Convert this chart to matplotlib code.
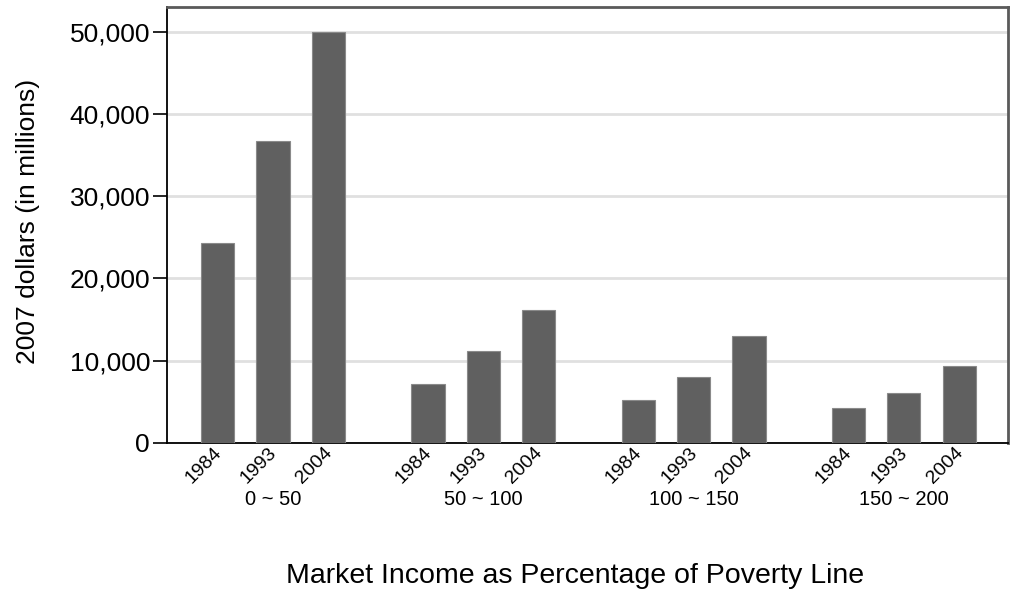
import numpy as np
import matplotlib
matplotlib.use("Agg")
import matplotlib.pyplot as plt
from matplotlib.transforms import ScaledTranslation

plt.rcParams['font.family'] = ['Liberation Sans', 'DejaVu Sans']

groups = ['0 ~ 50', '50 ~ 100', '100 ~ 150', '150 ~ 200']
years = ['1984', '1993', '2004']
# values in millions of 2007 dollars, one list per income group (1984, 1993, 2004)
g0_50 = [24350, 36700, 50000]
g50_100 = [7150, 11150, 16200]
g100_150 = [5250, 7980, 12980]
g150_200 = [4300, 6020, 9320]
values = [g0_50, g50_100, g100_150, g150_200]

group_step = 3.8
fig = plt.figure(figsize=(10.13, 5.93), dpi=100)
ax = fig.add_axes([0.1646, 0.253, 0.995 - 0.1646, 0.988 - 0.253])

xs = []
labels = []
for g in range(len(groups)):
    pos = g * group_step + np.arange(len(years))
    ax.bar(pos, values[g], width=0.6, color='#606060', edgecolor='#8a8a8a', linewidth=0.8, zorder=3)
    xs.extend(pos)
    labels.extend(years)
    ax.text(pos[1], -0.13, groups[g], transform=ax.get_xaxis_transform(),
            ha='center', va='center', fontsize=14.5)

ax.set_xlim(-0.92, (len(groups) - 1) * group_step + 2 + 0.88)
ax.set_ylim(0, 53000)
ax.set_yticks([0, 10000, 20000, 30000, 40000, 50000])
ax.set_yticklabels(['0', '10,000', '20,000', '30,000', '40,000', '50,000'], fontsize=19)
ax.tick_params(axis='y', length=10, width=1.2, pad=2)
ax.set_xticks(xs)
ax.set_xticklabels(labels, rotation=45, ha='right', va='top', rotation_mode='anchor', fontsize=14)
ax.tick_params(axis='x', length=0, pad=1)
shift = ScaledTranslation(-5 / 100, 0, fig.dpi_scale_trans)
for lab in ax.get_xticklabels():
    lab.set_transform(lab.get_transform() + shift)
ax.grid(axis='y', color='#e0e0e0', linewidth=2, zorder=0)

ax.spines['left'].set_color('black')
ax.spines['bottom'].set_color('black')
ax.spines['left'].set_linewidth(1.3)
ax.spines['bottom'].set_linewidth(1.3)
ax.spines['top'].set_color('#5a5a5a')
ax.spines['right'].set_color('#5a5a5a')
ax.spines['top'].set_linewidth(2)
ax.spines['right'].set_linewidth(2)

fig.text(28 / 1013, 0.626, '2007 dollars (in millions)', rotation=90, ha='center', va='center', fontsize=19)
fig.text(575 / 1013, 0.029, 'Market Income as Percentage of Poverty Line', ha='center', va='center', fontsize=20.5)

fig.savefig('out.png', dpi=100)
